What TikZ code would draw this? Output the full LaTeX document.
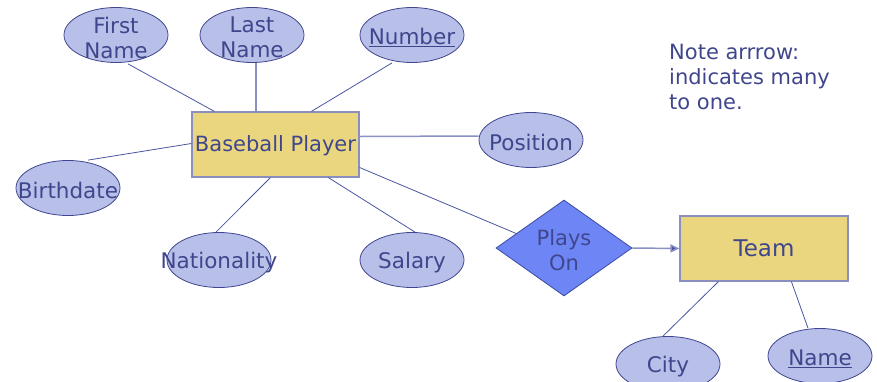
\documentclass[tikz,border=0pt]{standalone}
\usepackage{fontspec}
\setmainfont{DejaVu Sans}
\usetikzlibrary{shapes.geometric,calc,arrows.meta}
\definecolor{txt}{HTML}{3F468C}
\definecolor{attrfill}{HTML}{B8C0EA}
\definecolor{attrline}{HTML}{40468E}
\definecolor{entfill}{HTML}{EAD67F}
\definecolor{entline}{HTML}{8A8FC0}
\definecolor{relfill}{HTML}{6E86F5}
\definecolor{relline}{HTML}{3A4BA0}
\definecolor{conn}{HTML}{4A55A0}
\definecolor{connlight}{HTML}{8B90C4}
\tikzset{
  attr/.style={ellipse, draw=attrline, fill=attrfill, line width=0.8pt, minimum width=104pt, minimum height=55pt, inner sep=0pt},
  attrtxt/.style={text=txt, font=\fontsize{21.5}{25}\selectfont, align=center, inner sep=0pt, yshift=-2.5pt},
  ent/.style={rectangle, draw=entline, fill=entfill, line width=1.2pt, inner sep=0pt, text=txt, font=\fontsize{21}{25}\selectfont},
  rel/.style={diamond, draw=relline, fill=relfill, line width=0.8pt, minimum width=136pt, minimum height=96pt, inner sep=0pt, aspect=1.417},
  conn/.style={draw=conn, line width=0.8pt},
  connl/.style={draw=connlight, line width=1.5pt},
}
\begin{document}
\begin{tikzpicture}[x=1pt,y=-1pt]
\useasboundingbox (0,0) rectangle (877,381);
% entities
\node[ent, minimum width=167pt, minimum height=65pt, label={[text=txt, font=\fontsize{21}{25}\selectfont, inner sep=0pt, yshift=-1.5pt]center:Baseball Player}] (bp) at (275.5,144.5) {};
\node[ent, minimum width=168pt, minimum height=65pt, font=\fontsize{23}{27}\selectfont] (team) at (764,248.5) {Team};
% relationship
\node[rel, label={[attrtxt, font=\fontsize{21}{25}\selectfont]center:Plays\\On}] (plays) at (564,248) {};
% attributes
\node[attr, label={[attrtxt]center:First\\Name}] (fn) at (116,35) {};
\node[attr, label={[attrtxt]center:Last\\Name}] (ln) at (252,35) {};
\node[attr, label={[attrtxt]center:\underline{Number}}] (num) at (412,35) {};
\node[attr, label={[attrtxt]center:Position}] (pos) at (531,140) {};
\node[attr, label={[attrtxt]center:Birthdate}] (bd) at (68,188) {};
\node[attr, label={[attrtxt]center:Nationality}] (nat) at (219,260) {};
\node[attr, label={[attrtxt]center:Salary}] (sal) at (412,260) {};
\node[attr, label={[attrtxt]center:City}] (city) at (668,364) {};
\node[attr, label={[attrtxt]center:\underline{Name}}] (nm) at (820,356) {};
% note
\node[anchor=north west, text=txt, font=\fontsize{21}{25}\selectfont, align=left, inner sep=0pt] (note) at (669,44) {Note arrrow:\\indicates many\\to one.};
% connectors
\draw[conn] ($(fn.south)+(12,1)$) -- ($(bp.north west)+(23,0)$);
\draw[connl] (ln.south) ++(4,0) coordinate (lna) -- (lna |- bp.north);
\draw[conn] ($(num.south)+(-20,0)$) -- ($(bp.north west)+(120,0)$);
\draw[conn] ($(bd.north)+(20,0)$) -- ($(bp.west)+(0,-1)$);
\draw[connl] ($(bp.east)+(0,-8)$) -- ($(pos.west)+(0,-4)$);
\draw[conn] ($(nat.north)+(-3,0)$) -- ($(bp.south west)+(79,0)$);
\draw[conn] ($(sal.north)+(3,0)$) -- ($(bp.south west)+(137,0)$);
\draw[conn] ($(bp.east)+(0,23)$) -- ($(plays.west)!0.3!(plays.north)$);
\draw[connl, -{Triangle[length=9pt,width=8pt,fill=conn]}] (plays.east) -- (team.west);
\draw[conn] ($(team.south west)+(39,0)$) -- ($(city.north)+(-5,0)$);
\draw[conn] ($(team.south west)+(112,0)$) -- ($(nm.north)+(-12,0)$);
\end{tikzpicture}
\end{document}
